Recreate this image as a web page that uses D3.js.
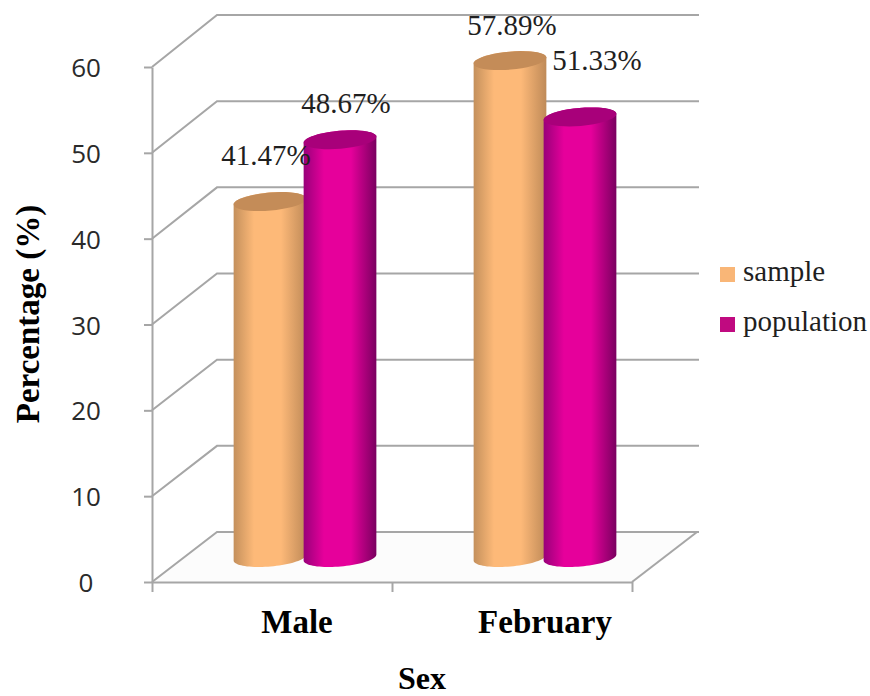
<!DOCTYPE html>
<html>
<head>
<meta charset="utf-8">
<script src="https://cdn.jsdelivr.net/npm/d3@7"></script>
<style>
html,body{margin:0;padding:0;background:#fff}
text{font-family:"Liberation Serif",serif;fill:#1f1f1f}
</style>
</head>
<body>
<svg id="chart" width="870" height="696"></svg>
<script>
const categories = ["Male", "February"];
const seriesNames = ["sample", "population"];
const sampleValues = [41.47, 57.89];
const populationValues = [48.67, 51.33];
const yTicks = [0, 10, 20, 30, 40, 50, 60];

const svg = d3.select("#chart");
const defs = svg.append("defs");

const y = d3.scaleLinear().domain([0, 60]).range([582, 67]);
const x = d3.scaleBand().domain(categories).range([152, 632]);
const inner = d3.scalePoint().domain(seriesNames).range([118, 188]);
const depth = {dx: 65, dy: -50};
const wallRight = 699;
const barWidth = 73;
const barBase = 557.5;
const pxPerUnit = y(0) - y(1);
const bodyStops = {
  sample: ["#c4905c", "#fdb978", "#fdb978", "#bf8a58"],
  population: ["#98007a", "#e6009b", "#e6009b", "#7a0060"]
};
const topColors = {sample: "#c48c58", population: "#a8007a"};
const legendColors = {sample: "#f9b677", population: "#c00a80"};

// left-to-right shading of the cylinder bodies
seriesNames.forEach(s => {
  const g = defs.append("linearGradient").attr("id", "body-" + s);
  [0, 0.28, 0.65, 1].forEach((o, i) =>
    g.append("stop").attr("offset", o).attr("stop-color", bodyStops[s][i]));
});

// floor
svg.append("path")
  .attr("d", d3.line()([[152, y(0)], [632, y(0)], [632 + depth.dx, y(0) + depth.dy], [152 + depth.dx, y(0) + depth.dy]]) + "Z")
  .attr("fill", "#fcfcfc");

// back wall gridlines and left wall diagonals
const gridColor = "#a6a6a6";
const backY = t => y(t) + depth.dy - t * 0.033;
const grid = svg.append("g").attr("stroke", gridColor).attr("stroke-width", 2).attr("fill", "none");
yTicks.forEach(t => {
  grid.append("path").attr("d", d3.line()([[152, y(t)], [152 + depth.dx, backY(t)], [wallRight, backY(t)]]));
});
grid.append("path").attr("d", d3.line()([[632, y(0)], [632 + depth.dx, backY(0)]]));

// axis lines and tick marks
const yAxis = svg.append("g").attr("transform", "translate(152,0)")
  .call(d3.axisLeft(y).tickValues(yTicks).tickSize(8).tickSizeOuter(0).tickFormat(""));
const xAxis = svg.append("g").attr("transform", `translate(0,${y(0)})`)
  .call(d3.axisBottom(d3.scaleLinear().domain([0, 2]).range([152, 632])).tickValues([0, 1, 2]).tickSize(10).tickSizeOuter(0).tickFormat(""));
[yAxis, xAxis].forEach(a => a.selectAll("path,line").attr("stroke", gridColor).attr("stroke-width", 2));

// y tick labels
svg.append("g").selectAll("text").data(yTicks).join("text")
  .attr("x", 86).attr("y", d => y(d) + 10)
  .attr("text-anchor", "middle")
  .style("font-family", '"Open Sans",sans-serif').style("font-size", "26px").style("fill", "#2a2a2a")
  .text(d => d);

// cylinders: outlines are traced around rotated ellipses
const rx = barWidth / 2, ry = 9, tilt = -5;
const rad = tilt * Math.PI / 180;
const rim = (cx, cy, from, to) => d3.range(0, 41).map(i => {
  const a = from + (to - from) * i / 40;
  const ex = rx * Math.cos(a), ey = ry * Math.sin(a);
  return [cx + ex * Math.cos(rad) - ey * Math.sin(rad), cy + ex * Math.sin(rad) + ey * Math.cos(rad)];
});
const series = {sample: sampleValues, population: populationValues};
const barsData = seriesNames.flatMap(s => categories.map((c, i) => ({s, c, v: series[s][i]})));
const cx = d => x(d.c) + inner(d.s);
const topY = d => barBase - d.v * pxPerUnit;
const bars = svg.append("g").selectAll("g").data(barsData).join("g");
bars.append("path")
  .attr("fill", d => `url(#body-${d.s})`)
  .attr("d", d => d3.line()([
    ...rim(cx(d), barBase, Math.PI, 0),
    ...rim(cx(d), topY(d), 0, -Math.PI)
  ]) + "Z");
bars.append("path")
  .attr("fill", d => topColors[d.s])
  .attr("d", d => d3.line()(rim(cx(d), topY(d), 0, 2 * Math.PI)) + "Z");

// value labels, nudged clear of the cylinder tops
const labelOffsets = {
  "sample|Male": [-4, -37], "population|Male": [6, -27],
  "sample|February": [2, -26], "population|February": [17, -47]
};
svg.append("g").selectAll("text").data(barsData).join("text")
  .attr("x", d => cx(d) + labelOffsets[d.s + "|" + d.c][0])
  .attr("y", d => topY(d) + labelOffsets[d.s + "|" + d.c][1])
  .attr("text-anchor", "middle").style("font-size", "29px")
  .text(d => d.v.toFixed(2) + "%");

// category labels
const categoryX = {Male: 297, February: 545};
svg.append("g").selectAll("text").data(categories).join("text")
  .attr("x", d => categoryX[d]).attr("y", 633)
  .attr("text-anchor", "middle").style("font-size", "33px").style("font-weight", "bold").style("fill", "#000")
  .text(d => d);

// axis titles
svg.append("text").attr("x", 422).attr("y", 689)
  .attr("text-anchor", "middle").style("font-size", "32px").style("font-weight", "bold").style("fill", "#000")
  .text("Sex");
svg.append("text").attr("transform", "translate(39,314) rotate(-90)")
  .attr("text-anchor", "middle").style("font-size", "33px").style("font-weight", "bold").style("fill", "#000")
  .text("Percentage (%)");

// legend
const legend = svg.append("g").selectAll("g").data(seriesNames).join("g")
  .attr("transform", (d, i) => `translate(720,${267 + i * 50})`);
legend.append("rect").attr("width", 15).attr("height", 15).attr("fill", d => legendColors[d]);
legend.append("text").attr("x", 23).attr("y", 14).style("font-size", "29px").text(d => d);
</script>
</body>
</html>
